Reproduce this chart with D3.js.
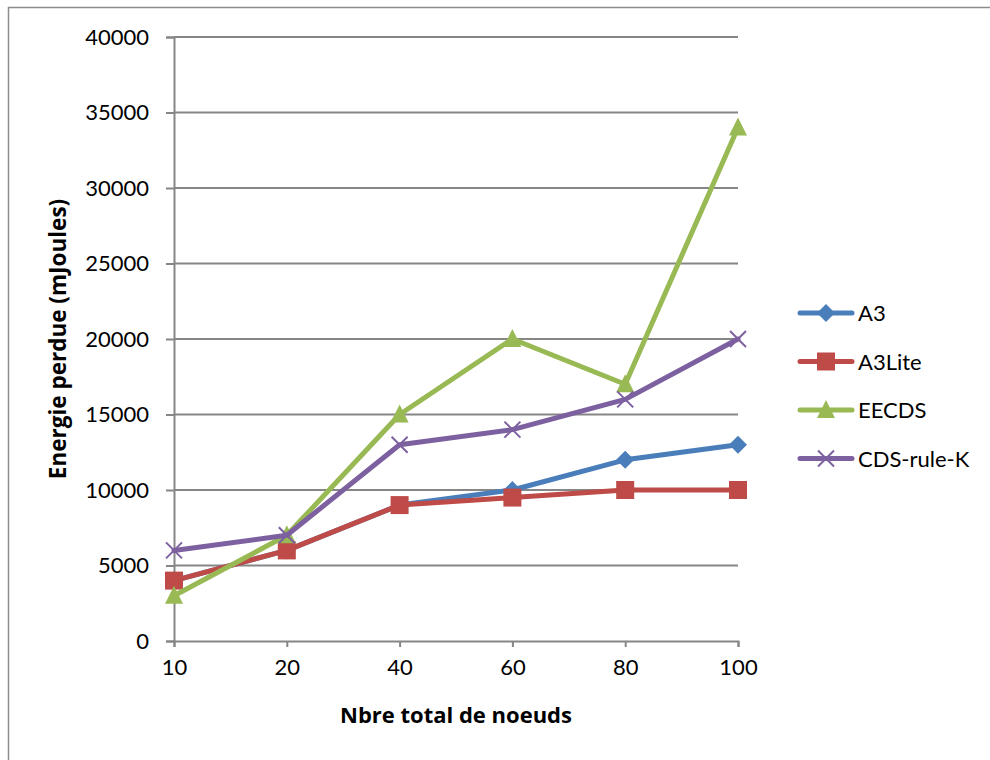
<!DOCTYPE html>
<html><head><meta charset="utf-8">
<script src="https://cdn.jsdelivr.net/npm/d3@7"></script>
<style>body{margin:0;background:#fff}svg{display:block}</style>
</head><body>
<svg id="c" width="990" height="760"></svg>
<script>
const categories = ["10","20","40","60","80","100"];
const a3 = [4000, 6000, 9000, 10000, 12000, 13000];
const a3lite = [4000, 6000, 9000, 9500, 10000, 10000];
const eecds = [3000, 7000, 15000, 20000, 17000, 34000];
const cdsRuleK = [6000, 7000, 13000, 14000, 16000, 20000];
const yTicks = [0,5000,10000,15000,20000,25000,30000,35000,40000];
const seriesNames = ["A3","A3Lite","EECDS","CDS-rule-K"];

const series = [
  {name: seriesNames[0], values: a3, color: "#4A7EBB", marker: "diamond"},
  {name: seriesNames[1], values: a3lite, color: "#BE4B48", marker: "square"},
  {name: seriesNames[2], values: eecds, color: "#98B954", marker: "triangle"},
  {name: seriesNames[3], values: cdsRuleK, color: "#7D60A0", marker: "x"}
];

const svg = d3.select("#c");
const font = "Lato, 'Open Sans', sans-serif";
const titleFont = "'Open Sans', Lato, sans-serif";
const grey = "#868686";

// outer frame
svg.append("path").attr("d","M8.5,770 L8.5,7.5 L1000,7.5").attr("fill","none").attr("stroke","#8c8c8c").attr("stroke-width",1.5);

const x = d3.scalePoint().domain(categories).range([174, 738]);
const y = d3.scaleLinear().domain([0, 40000]).range([641, 37]);

// gridlines
svg.append("g").selectAll("line").data(yTicks.filter(d=>d>0)).join("line")
  .attr("x1",174).attr("x2",738).attr("y1",d=>y(d)).attr("y2",d=>y(d))
  .attr("stroke",grey).attr("stroke-width",2);

// y axis
const yAxis = svg.append("g").attr("transform","translate(174,0)")
  .call(d3.axisLeft(y).tickValues(yTicks).tickSize(8).tickPadding(17).tickFormat(d3.format("d")));
yAxis.select(".domain").attr("stroke",grey).attr("stroke-width",2);
yAxis.selectAll(".tick line").attr("stroke",grey).attr("stroke-width",2);
yAxis.selectAll(".tick text").attr("font-family",font).attr("font-size",22).attr("fill","#000");

// x axis
const xAxis = svg.append("g").attr("transform","translate(0,641)")
  .call(d3.axisBottom(x).tickSize(6).tickPadding(12));
xAxis.select(".domain").attr("stroke",grey).attr("stroke-width",2);
xAxis.selectAll(".tick line").attr("stroke",grey).attr("stroke-width",2);
xAxis.selectAll(".tick text").attr("font-family",font).attr("font-size",22).attr("fill","#000");

// axis titles
svg.append("text").attr("x",456).attr("y",723).attr("text-anchor","middle")
  .attr("font-family",titleFont).attr("font-weight","bold").attr("font-size",22).text("Nbre total de noeuds");
svg.append("text").attr("transform","translate(66,339) rotate(-90)").attr("text-anchor","middle")
  .attr("font-family",titleFont).attr("font-weight","bold").attr("font-size",22.5).text("Energie perdue (mJoules)");

function drawMarker(g, type, color, cx, cy) {
  if (type === "diamond") {
    g.append("path").attr("d", `M${cx},${cy-9} L${cx+9},${cy} L${cx},${cy+9} L${cx-9},${cy} Z`).attr("fill", color);
  } else if (type === "square") {
    g.append("rect").attr("x", cx-9).attr("y", cy-9).attr("width",18).attr("height",18).attr("fill", color);
  } else if (type === "triangle") {
    g.append("path").attr("d", `M${cx},${cy-10} L${cx+9},${cy+8} L${cx-9},${cy+8} Z`).attr("fill", color);
  } else {
    g.append("path").attr("d", `M${cx-8},${cy-8} L${cx+8},${cy+8} M${cx-8},${cy+8} L${cx+8},${cy-8}`)
      .attr("stroke", color).attr("stroke-width",2).attr("fill","none");
  }
}

const line = d3.line().x((d,i)=>x(categories[i])).y(d=>y(d));
series.forEach(s => {
  const g = svg.append("g");
  g.append("path").attr("d", line(s.values)).attr("fill","none").attr("stroke", s.color)
    .attr("stroke-width",5).attr("stroke-linejoin","round").attr("stroke-linecap","round");
  s.values.forEach((v,i) => drawMarker(g, s.marker, s.color, x(categories[i]), y(v)));
});

// legend
const leg = svg.append("g");
series.forEach((s,i) => {
  const cy = 313 + i*48.5;
  leg.append("line").attr("x1",800).attr("x2",852).attr("y1",cy).attr("y2",cy)
    .attr("stroke",s.color).attr("stroke-width",5).attr("stroke-linecap","round");
  drawMarker(leg, s.marker, s.color, 826, cy);
  leg.append("text").attr("x",858).attr("y",cy+8).attr("font-family",font).attr("font-size",22).text(s.name);
});
</script>
</body></html>
